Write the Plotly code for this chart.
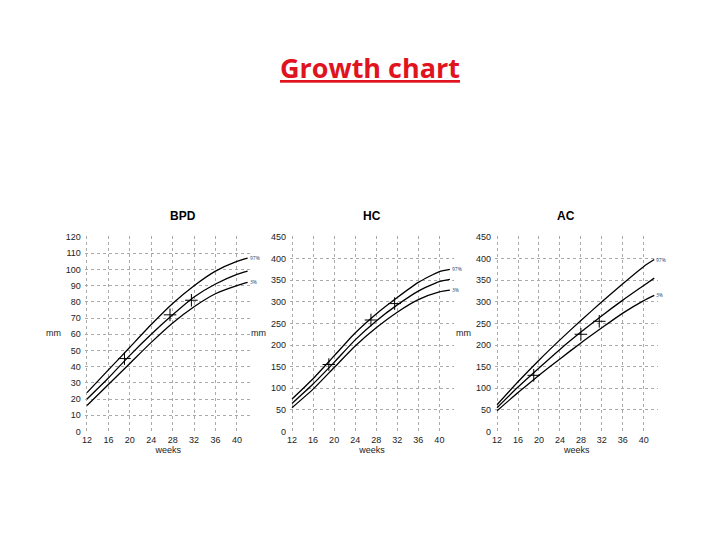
import plotly.graph_objects as go

weeks = [12, 16, 20, 24, 28, 32, 36, 40, 42]
bpd_hi = [24, 38, 52, 66, 79, 90, 99, 105, 107]
bpd_mid = [20, 33, 47, 60, 72, 83, 91, 97, 99]
bpd_lo = [16, 29, 42, 55, 67, 77, 85, 90, 92]
hc_hi = [75, 122, 175, 228, 272, 310, 345, 370, 375]
hc_mid = [65, 110, 160, 212, 256, 293, 325, 347, 352]
hc_lo = [55, 98, 148, 198, 240, 276, 305, 323, 327]
ac_hi = [62, 115, 165, 212, 257, 300, 342, 382, 398]
ac_mid = [55, 103, 147, 190, 230, 268, 304, 338, 355]
ac_lo = [48, 90, 130, 168, 205, 240, 274, 303, 315]
bpd_pts_x = [19, 27.5, 31.5]; bpd_pts_y = [45, 72, 81]
hc_pts_x = [19, 27, 31.5]; hc_pts_y = [155, 258, 296]
ac_pts_x = [19, 28, 31.5]; ac_pts_y = [130, 225, 255]
xticks = [12, 16, 20, 24, 28, 32, 36, 40]

panels = [
    ("BPD", bpd_hi, bpd_mid, bpd_lo, bpd_pts_x, bpd_pts_y, 120, 10, [0.103, 0.336]),
    ("HC", hc_hi, hc_mid, hc_lo, hc_pts_x, hc_pts_y, 450, 50, [0.389, 0.618]),
    ("AC", ac_hi, ac_mid, ac_lo, ac_pts_x, ac_pts_y, 450, 50, [0.675, 0.903]),
]

fig = go.Figure()
font = dict(family="Liberation Sans, Arial", size=9, color="#222")
for i, (name, hi, mid, lo, px, py, ymax, dy, dom) in enumerate(panels):
    n = "" if i == 0 else str(i + 1)
    xa, ya = "x" + n, "y" + n
    for s in (hi, mid, lo):
        fig.add_trace(go.Scatter(x=weeks, y=s, mode="lines",
                                 line=dict(color="black", width=1.3, shape="spline", smoothing=0.6),
                                 xaxis=xa, yaxis=ya, showlegend=False, hoverinfo="skip"))
    fig.add_trace(go.Scatter(x=px, y=py, mode="markers", marker=dict(symbol="cross-thin", size=9, line=dict(color="black", width=1)),
                             xaxis=xa, yaxis=ya, showlegend=False))
    fig.add_annotation(x=42, y=hi[-1], xref=xa, yref=ya, text="97%", showarrow=False, xanchor="left", font=dict(size=5))
    fig.add_annotation(x=42, y=lo[-1], xref=xa, yref=ya, text="3%", showarrow=False, xanchor="left", font=dict(size=5))
    fig.add_annotation(x=(dom[0] + dom[1]) / 2, y=0.615, xref="paper", yref="paper", text="<b>" + name + "</b>",
                       showarrow=False, font=dict(family="Liberation Sans, Arial", size=12, color="black"))
    fig.add_annotation(x=dom[0] - 0.03, y=0.395, xref="paper", yref="paper", text="mm", showarrow=False, xanchor="right", font=font)
    fig.layout["xaxis" + n] = dict(domain=dom, range=[11.6, 42.8], tickvals=xticks, showgrid=True, gridcolor="#aaa",
                                   griddash="dot", zeroline=False, showline=False, tickfont=font, anchor=ya,
                                   ticklabelstandoff=2,
                                   title=dict(text="weeks", font=font, standoff=0))
    fig.layout["yaxis" + n] = dict(domain=[0.21, 0.578], range=[0, ymax * 1.005], dtick=dy, showgrid=True, gridcolor="#aaa",
                                   griddash="dot", zeroline=False, tickfont=font, anchor=xa, ticks="",
                                   ticklabelstandoff=3)

fig.add_annotation(x=0.5, y=0.935, xref="paper", yref="paper", text="<b><u>Growth chart</u></b>", showarrow=False,
                   font=dict(family="Open Sans, Liberation Sans", size=27, color="#e0141e"))
fig.update_layout(width=720, height=540, margin=dict(l=0, r=0, t=0, b=0), plot_bgcolor="white", paper_bgcolor="white")
fig.write_html("out.html")
